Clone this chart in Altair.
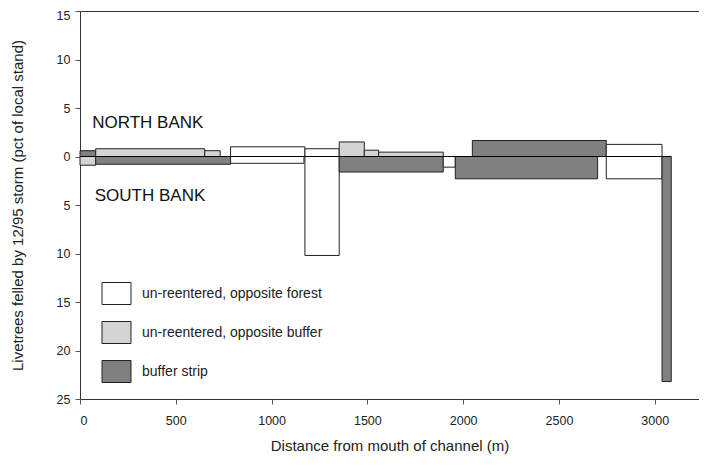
import altair as alt
import pandas as pd

# North bank segments (distance start, end in m; pct felled)
north_start = [0, 82, 651, 786, 1174, 1353, 1484, 1559, 2048, 2747]
north_end = [82, 651, 732, 1174, 1353, 1484, 1559, 1896, 2747, 3038]
north_pct = [0.6, 0.8, 0.6, 1.0, 0.8, 1.5, 0.65, 0.45, 1.65, 1.25]
north_cat = ["buffer strip", "un-reentered, opposite buffer", "un-reentered, opposite buffer",
             "un-reentered, opposite forest", "un-reentered, opposite forest",
             "un-reentered, opposite buffer", "un-reentered, opposite buffer",
             "un-reentered, opposite buffer", "buffer strip", "un-reentered, opposite forest"]

# South bank segments
south_start = [0, 82, 786, 1174, 1353, 1896, 1959, 2747, 3038]
south_end = [82, 786, 1169, 1353, 1896, 1959, 2702, 3038, 3086]
south_pct = [0.9, 0.8, 0.7, 10.2, 1.6, 1.1, 2.3, 2.3, 23.2]
south_cat = ["un-reentered, opposite buffer", "buffer strip", "un-reentered, opposite forest",
             "un-reentered, opposite forest", "buffer strip", "un-reentered, opposite forest",
             "buffer strip", "un-reentered, opposite forest", "buffer strip"]

categories = ["un-reentered, opposite forest", "un-reentered, opposite buffer", "buffer strip"]
fills = ["#ffffff", "#d4d4d4", "#808080"]

y_ticks = [-25, -20, -15, -10, -5, 0, 5, 10, 15]
x_ticks = [0, 500, 1000, 1500, 2000, 2500, 3000]

rows = []
for s, e, p, c in zip(north_start, north_end, north_pct, north_cat):
    rows.append({"x": s, "x2": e, "y": 0, "y2": p, "cat": c})
for s, e, p, c in zip(south_start, south_end, south_pct, south_cat):
    rows.append({"x": s, "x2": e, "y": -p, "y2": 0, "cat": c})
df = pd.DataFrame(rows)

FONT = "Liberation Sans"

xscale = alt.Scale(domain=[0, 3231], nice=False, zero=False)
yscale = alt.Scale(domain=[-25, 15], nice=False)

rects = alt.Chart(df).mark_rect(stroke="#222222", strokeWidth=1).encode(
    x=alt.X("x:Q", scale=xscale,
            axis=alt.Axis(values=x_ticks, format="d", title="Distance from mouth of channel (m)",
                          grid=False, domain=False, tickColor="#555555", tickSize=5,
                          labelFont=FONT, labelFontSize=12.5, labelColor="#222222",
                          labelPadding=10, titleFont=FONT, titleFontSize=15,
                          titleFontWeight="normal", titleColor="#222222", titlePadding=12)),
    x2="x2:Q",
    y=alt.Y("y:Q", scale=yscale,
            axis=alt.Axis(values=y_ticks, labelExpr="abs(datum.value)",
                          title="Livetrees felled by 12/95 storm (pct of local stand)",
                          grid=False, domain=False, tickColor="#555555", tickSize=5,
                          labelFont=FONT, labelFontSize=12.5, labelColor="#222222",
                          labelPadding=5,
                          labelOffset={"condition": {"test": "datum.value == 15", "value": 4},
                                       "value": 0},
                          titleFont=FONT, titleFontSize=15,
                          titleFontWeight="normal", titleColor="#222222", titlePadding=31)),
    y2="y2:Q",
    fill=alt.Fill("cat:N", scale=alt.Scale(domain=categories, range=fills),
                  legend=alt.Legend(title=None, orient="none", legendX=25, legendY=271,
                                    symbolType="M-1.318,-1H1.318V1H-1.318Z",
                                    symbolSize=484, symbolStrokeColor="#222222",
                                    symbolStrokeWidth=1, symbolOpacity=1,
                                    rowPadding=12, labelOffset=14,
                                    labelFont=FONT, labelFontSize=14, labelColor="#222222",
                                    labelLimit=400, padding=0)),
)

zero_df = pd.DataFrame({"x": [0], "x2": [3086], "y": [0]})
zero_line = alt.Chart(zero_df).mark_rule(color="#000000", strokeWidth=1.2).encode(
    x=alt.X("x:Q", scale=xscale), x2="x2:Q", y=alt.Y("y:Q", scale=yscale)
)

label_df = pd.DataFrame({"x": [64, 77], "y": [3.5, -4.1], "t": ["NORTH BANK", "SOUTH BANK"]})
labels = alt.Chart(label_df).mark_text(align="left", baseline="middle", font=FONT,
                                        fontSize=17, color="#111111").encode(
    x=alt.X("x:Q", scale=xscale), y=alt.Y("y:Q", scale=yscale), text="t:N"
)

chart = alt.layer(rects, zero_line, labels).properties(
    width=619, height=388,
    background="white",
    autosize=alt.AutoSizeParams(type="none"),
    padding={"left": 72, "top": 3, "right": 0, "bottom": 60},
).configure_view(stroke="#333333", strokeWidth=1)

chart.save("out.html", embed_options={"renderer": "svg", "actions": False})
